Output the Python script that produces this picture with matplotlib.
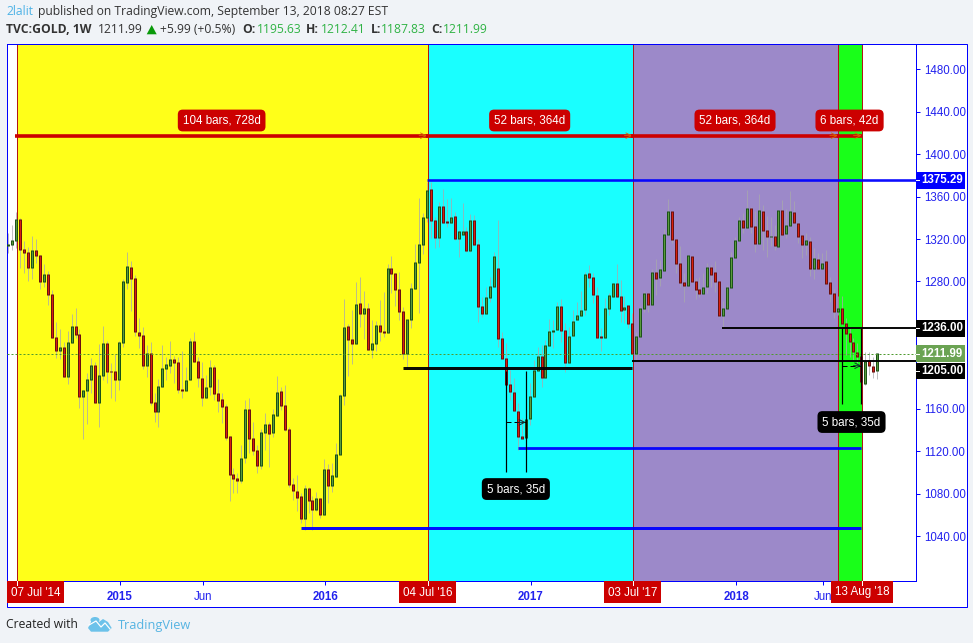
import numpy as np
import matplotlib
matplotlib.use("Agg")
import matplotlib.pyplot as plt
from matplotlib.patches import Rectangle, Polygon, Ellipse

plt.rcParams["font.family"] = ["Liberation Sans", "DejaVu Sans"]

# weekly TVC:GOLD bars, first entry is two weeks before 07 Jul '14
opens = [1314.4,1314.7,1318.8,1338.6,1310.3,1307.5,1293.0,1309.4,1304.7,1279.8,
         1286.7,1267.9,1227.3,1214.8,1217.9,1190.3,1222.6,1237.7,1230.2,1171.4,
         1177.4,1187.7,1200.9,1165.7,1191.5,1221.7,1195.6,1195.3,1187.4,1222.6,
         1279.2,1293.3,1283.0,1232.0,1229.2,1200.6,1212.2,1166.0,1157.3,1180.8,
         1198.1,1200.6,1206.6,1203.8,1178.3,1177.4,1187.4,1223.6,1204.7,1188.7,
         1170.4,1180.8,1199.1,1174.5,1168.3,1162.3,1134.0,1098.2,1094.4,1092.2,
         1114.2,1159.5,1132.1,1120.8,1106.4,1137.5,1145.3,1137.5,1153.5,1176.4,
         1163.2,1140.6,1088.7,1082.1,1077.4,1056.4,1085.0,1073.6,1064.9,1075.5,
         1060.1,1102.9,1087.5,1095.9,1117.0,1172.4,1237.7,1225.5,1221.4,1259.4,
         1249.7,1254.7,1215.7,1221.4,1238.7,1233.0,1231.7,1292.4,1287.7,1272.6,
         1251.9,1212.0,1244.0,1273.2,1297.7,1314.7,1340.2,1366.9,1337.6,1321.3,
         1350.8,1336.3,1335.8,1341.4,1320.4,1324.1,1327.3,1309.0,1337.6,1315.0,
         1256.6,1249.6,1264.7,1275.1,1292.4,1226.4,1207.5,1183.0,1175.5,1157.5,
         1134.3,1132.7,1150.6,1171.4,1195.9,1209.4,1189.3,1219.5,1232.7,1234.6,
         1256.6,1233.9,1203.4,1228.9,1244.0,1247.8,1253.4,1287.7,1283.9,1266.9,
         1228.3,1227.0,1254.4,1265.7,1278.2,1266.0,1253.4,1256.9,1240.5,1211.9,
         1228.3,1254.4,1268.8,1258.1,1288.6,1283.6,1290.2,1324.1,1346.1,1319.7,
         1297.1,1279.2,1276.0,1303.7,1280.1,1272.6,1268.5,1275.1,1293.3,1288.6,
         1280.1,1247.8,1254.4,1274.5,1302.4,1318.5,1337.6,1331.0,1349.0,1332.0,
         1315.6,1346.1,1328.2,1322.4,1322.6,1312.8,1347.0,1325.1,1332.9,1345.2,
         1334.8,1323.5,1314.7,1317.8,1292.1,1300.9,1292.1,1299.0,1279.2,1268.8,
         1251.5,1254.7,1240.5,1231.1,1222.9,1213.2,1209.7,1183.9,1205.6,1200.3,1195.63]
closes = [1315.0,1318.8,1338.6,1310.3,1307.2,1293.0,1309.4,1304.7,1279.8,1286.7,
          1267.6,1227.0,1214.8,1217.9,1190.3,1222.6,1237.7,1229.9,1171.4,1177.4,
          1187.7,1200.9,1165.7,1191.5,1221.7,1195.0,1195.2,1187.4,1222.6,1280.1,
          1294.3,1282.7,1232.7,1228.9,1200.6,1212.2,1165.7,1157.3,1181.1,1198.1,
          1201.9,1206.6,1203.4,1178.0,1177.4,1186.8,1223.6,1204.4,1189.6,1170.4,
          1180.2,1199.1,1174.2,1167.6,1162.0,1132.7,1097.9,1094.1,1092.2,1113.3,
          1159.5,1131.8,1120.5,1106.4,1137.8,1145.3,1136.5,1154.8,1175.5,1162.9,
          1140.3,1088.4,1082.8,1076.2,1056.4,1085.0,1073.3,1064.9,1075.5,1060.1,
          1102.9,1087.5,1097.2,1117.0,1172.7,1236.8,1225.2,1221.4,1258.5,1249.7,
          1254.7,1215.7,1221.7,1238.7,1232.7,1231.7,1292.4,1287.4,1272.3,1251.6,
          1212.0,1243.7,1273.6,1298.1,1315.0,1340.5,1365.6,1337.3,1321.3,1350.8,
          1335.4,1335.9,1340.5,1320.4,1327.3,1327.3,1309.0,1337.6,1314.7,1256.2,
          1249.6,1265.1,1275.4,1303.7,1226.1,1207.2,1182.7,1176.1,1158.2,1133.7,
          1132.4,1150.0,1171.7,1196.5,1209.4,1189.3,1219.8,1233.0,1233.9,1256.6,
          1233.6,1203.4,1228.3,1242.4,1248.0,1252.8,1286.7,1283.6,1267.6,1227.0,
          1227.0,1254.7,1266.9,1278.2,1265.7,1252.5,1255.6,1240.2,1211.9,1228.3,
          1254.7,1268.8,1258.1,1288.6,1282.6,1291.4,1324.4,1346.1,1319.7,1296.8,
          1278.9,1276.0,1304.6,1279.8,1272.3,1268.5,1274.5,1293.3,1286.4,1279.8,
          1247.8,1254.7,1274.5,1302.8,1318.8,1337.6,1330.7,1349.0,1331.7,1315.6,
          1347.0,1327.9,1322.2,1322.8,1313.8,1347.0,1324.1,1332.9,1346.1,1335.4,
          1322.2,1314.7,1319.1,1292.1,1301.8,1292.1,1297.1,1277.9,1268.5,1251.5,
          1254.7,1240.2,1230.8,1223.2,1213.8,1209.1,1185.5,1205.0,1200.6,1195.5,1211.99]
highs = [1326.0,1333.3,1345.8,1339.5,1318.2,1312.2,1322.9,1320.1,1304.7,1296.5,
         1289.9,1272.0,1241.8,1235.2,1223.3,1233.6,1249.3,1255.0,1235.2,1177.4,
         1194.0,1207.5,1204.4,1221.0,1238.0,1223.9,1202.8,1211.3,1224.2,1282.3,
         1307.8,1299.3,1286.1,1245.9,1237.4,1220.1,1222.9,1174.9,1188.0,1220.1,
         1208.8,1224.2,1210.0,1208.5,1214.5,1199.4,1226.7,1232.4,1208.8,1204.1,
         1191.8,1206.0,1201.3,1188.0,1174.5,1164.5,1134.0,1103.8,1099.1,1125.8,
         1168.3,1169.8,1147.5,1125.8,1140.9,1155.7,1147.8,1159.5,1190.9,1180.8,
         1182.4,1142.5,1094.4,1097.6,1080.3,1088.1,1086.6,1077.7,1081.2,1075.5,
         1112.3,1107.6,1108.5,1127.4,1173.9,1263.2,1239.9,1253.1,1279.5,1284.2,
         1271.0,1260.0,1243.7,1242.8,1262.6,1270.1,1296.5,1304.0,1287.7,1288.9,
         1256.3,1243.7,1278.9,1315.4,1358.4,1344.3,1374.1,1374.1,1341.1,1355.2,
         1366.9,1357.4,1358.4,1345.8,1328.5,1353.7,1331.7,1343.6,1342.7,1319.7,
         1265.7,1275.1,1284.5,1308.1,1338.0,1232.7,1221.7,1196.5,1188.7,1165.1,
         1151.0,1151.0,1183.9,1206.0,1218.5,1220.0,1224.8,1244.6,1243.7,1261.0,
         1263.2,1240.5,1237.4,1253.1,1261.0,1271.3,1288.6,1295.5,1287.7,1275.1,
         1235.8,1264.1,1269.4,1278.2,1296.5,1281.4,1266.3,1256.9,1249.9,1232.0,
         1257.2,1271.3,1268.8,1291.8,1301.2,1300.2,1329.2,1357.8,1346.1,1319.7,
         1313.4,1287.7,1304.6,1304.0,1283.0,1283.9,1288.3,1297.1,1295.5,1299.3,
         1280.1,1261.9,1276.7,1307.5,1322.2,1341.1,1344.2,1366.2,1349.9,1346.8,
         1362.5,1352.1,1341.7,1341.1,1333.2,1347.4,1356.8,1348.0,1365.3,1356.2,
         1334.8,1323.5,1325.4,1322.2,1311.2,1306.5,1306.5,1309.7,1283.9,1272.6,
         1266.3,1266.3,1245.2,1237.4,1226.4,1221.6,1212.2,1213.8,1213.8,1209.1,1212.41]
lows = [1307.2,1309.7,1311.9,1293.0,1288.3,1280.8,1282.7,1297.1,1273.2,1275.1,
        1258.1,1227.0,1207.5,1207.2,1190.3,1183.3,1221.7,1227.0,1160.7,1131.8,
        1145.6,1175.2,1165.7,1143.1,1187.1,1184.0,1170.1,1167.6,1177.7,1217.9,
        1272.6,1252.5,1228.6,1217.6,1197.8,1190.3,1163.5,1147.8,1143.1,1180.8,
        1187.1,1193.4,1184.6,1175.2,1170.1,1177.4,1187.4,1204.4,1180.2,1162.9,
        1170.4,1173.3,1168.3,1157.3,1146.9,1130.5,1073.3,1080.3,1080.9,1089.7,
        1109.2,1118.0,1116.4,1099.1,1102.9,1121.1,1104.8,1133.7,1153.5,1158.8,
        1139.3,1085.9,1074.0,1063.9,1052.6,1045.7,1061.4,1045.7,1063.9,1057.0,
        1060.1,1071.5,1081.8,1095.9,1117.0,1163.5,1191.2,1202.2,1221.4,1237.4,
        1225.8,1215.7,1208.2,1214.8,1224.2,1228.0,1231.7,1269.5,1256.9,1243.7,
        1206.9,1199.1,1235.8,1273.2,1250.6,1305.9,1336.4,1320.7,1311.2,1312.8,
        1335.4,1331.0,1335.4,1319.1,1303.4,1323.8,1308.1,1308.1,1314.7,1242.1,
        1246.2,1249.6,1261.0,1275.1,1218.5,1207.2,1182.7,1168.2,1158.2,1121.1,
        1132.4,1132.7,1144.7,1171.4,1195.9,1180.8,1189.3,1219.5,1217.0,1234.2,
        1223.2,1195.0,1203.4,1228.9,1244.0,1247.8,1248.1,1275.1,1259.4,1227.0,
        1214.8,1227.0,1248.4,1265.7,1265.7,1242.1,1240.5,1235.8,1211.9,1205.3,
        1228.3,1251.5,1251.5,1258.1,1267.2,1275.7,1290.2,1324.1,1316.6,1287.7,
        1275.1,1261.0,1276.0,1278.2,1263.5,1265.7,1268.5,1268.8,1275.1,1270.4,
        1246.8,1237.4,1254.4,1274.5,1302.4,1318.5,1325.4,1331.0,1326.0,1308.1,
        1315.6,1309.7,1303.4,1313.8,1309.7,1312.8,1324.1,1320.7,1332.9,1335.4,
        1316.0,1302.1,1305.0,1285.1,1282.3,1292.1,1292.1,1277.9,1261.0,1245.2,
        1248.4,1239.0,1210.7,1209.1,1205.9,1202.8,1164.4,1182.4,1191.8,1188.6,1187.83]

# date range zones, in bars counted from 07 Jul '14
zone_edges = [0, 104, 156, 208, 214]
zone_colors = ["#ffff19", "#19ffff", "#9c89c9", "#19ff19"]
zone_labels = ["104 bars, 728d", "52 bars, 364d", "52 bars, 364d", "6 bars, 42d"]
edge_dates = ["07 Jul '14", "04 Jul '16", "03 Jul '17", "13 Aug '18"]
edge_date_bars = [0, 104, 156, 214]
# the first box is pushed right so that it stays inside the frame
edge_date_centres = [4.8, 104, 156, 214]

year_ticks = [26, 47, 78, 130, 182, 204]
year_labels = ["2015", "Jun", "2016", "2017", "2018", "Jun"]
price_ticks = [1040, 1080, 1120, 1160, 1280, 1320, 1360, 1400, 1440, 1480]

last_price = 1211.99
range_price = 1417.5
range_label_price = 1431.8

# (start bar, end bar or None for the scale, price, width px, colour)
level_lines = [
    (104, None, 1375.29, 2.6, "#0000ff"),
    (72, 214, 1047.8, 3.0, "#0000ff"),
    (127, 214, 1123.0, 2.8, "#0000ff"),
    (98, 156, 1198.1, 3.0, "#000000"),
    (156, None, 1205.0, 2.0, "#000000"),
    (178.8, None, 1236.0, 2.0, "#000000"),
]
# (text, box colour, price the box sits at)
price_boxes = [
    ("1375.29", "#0000ff", 1375.29),
    ("1236.00", "#000000", 1236.0),
    ("1211.99", "#6ba353", 1211.99),
    ("1205.00", "#000000", 1195.6),
]
# (left bar, right bar, low, high, mid, label centre price)
measures = [
    (124, 129, 1100.4, 1196.0, 1147.2, 1084.3),
    (209, 214, 1164.5, 1236.0, 1200.6, 1147.5),
]

W, H = 973, 643
BG = "#f0f3f7"
BLUE = "#0000ff"
RED = "#cc0000"
TICK_BLUE = "#2222ee"
px = 72 / 100  # one pixel in points


def pxax(fig, left, top, right, bottom):
    return fig.add_axes([left / W, 1 - bottom / H, (right - left) / W, (bottom - top) / H])


fig = plt.figure(figsize=(W / 100, H / 100), dpi=100, facecolor=BG)

# outer frame and page text live on a pixel axes
page = pxax(fig, 0, 0, W, H)
page.set_xlim(0, W)
page.set_ylim(H, 0)
page.axis("off")
page.add_patch(Rectangle((6.5, 43.5), 960, 563, fc="white", ec=BLUE, lw=1 * px))

ax = pxax(fig, 6.5, 43.5, 915.5, 581)
ax.set_zorder(2)
ax.set_xlim(-2.48, 227.7)
ax.set_ylim(997.6, 1504.4)
ax.set_facecolor("white")
for s in ax.spines.values():
    s.set_color(BLUE)
    s.set_linewidth(1 * px)

# the drawn tools sit a little right of the candle centres
tool_dx = 0.15
for k in range(4):
    ax.axvspan(zone_edges[k] + tool_dx, zone_edges[k + 1] + tool_dx, color=zone_colors[k], lw=0, zorder=1)
for b in zone_edges:
    ax.axvline(b + tool_dx, color="#b01515", lw=1 * px, zorder=2)

x = np.arange(-2, len(opens) - 2)
o = np.array(opens)
c = np.array(closes)
up = c >= o
top = np.maximum(o, c)
bot = np.minimum(o, c)
ax.vlines(x, lows, highs, color="#a8a8ac", alpha=0.75, lw=1 * px, zorder=3)
# bodies as snapped strokes, so every candle stays 3 px wide: dark outline, then the fill inside it
one_px_price = 0.943
for mask, edge, fill in [(up, "#1c5218", "#5a9a3c"), (~up, "#6a1010", "#d8200f")]:
    ax.vlines(x[mask], bot[mask] - one_px_price / 2, top[mask] + one_px_price / 2, color=edge, lw=3 * px, zorder=4,
              capstyle="butt")
    tall = mask & (top - bot > one_px_price)
    ax.vlines(x[tall], bot[tall] + one_px_price / 2, top[tall] - one_px_price / 2, color=fill, lw=1 * px, zorder=5,
              capstyle="butt")

ax.axhline(last_price, color="#4f9a2f", lw=1 * px, ls=(0, (2, 2)), zorder=5)

# long red date ranges on top
for k in range(4):
    ax.plot([zone_edges[k] - 0.3, zone_edges[k + 1] + tool_dx], [range_price, range_price], color=RED, lw=3.6 * px,
            solid_capstyle="butt", zorder=6)
    ax.annotate("", xy=(zone_edges[k + 1], range_price), xytext=(zone_edges[k + 1] - 2, range_price),
                arrowprops=dict(arrowstyle="->", color="#d86a00", lw=0.6, shrinkA=0, shrinkB=0), zorder=6)
    ax.text((zone_edges[k] + zone_edges[k + 1]) / 2, range_label_price, zone_labels[k], color="white", fontsize=8.4,
            ha="center", va="center", zorder=8,
            bbox=dict(boxstyle="round,pad=0.42", fc=RED, ec="none"))

xmax = ax.get_xlim()[1]
for start, end, price, width, col in level_lines:
    ax.plot([start, xmax if end is None else end], [price, price], color=col, lw=width * px, alpha=0.95,
            solid_capstyle="butt", zorder=7)

for left, right, low, high, mid, lab in measures:
    ax.vlines([left, right], low, high, color="black", lw=1.2 * px, zorder=7)
    ax.plot([left, right], [mid, mid], color="black", lw=1 * px, ls=(0, (5, 3)), zorder=7)
    ax.annotate("", xy=(right, mid), xytext=(right - 2, mid),
                arrowprops=dict(arrowstyle="->", color="#103030", lw=0.7, shrinkA=0, shrinkB=0), zorder=7)
    ax.text((left + right) / 2, lab, "5 bars, 35d", color="white", fontsize=8.4, ha="center", va="center", zorder=8,
            bbox=dict(boxstyle="round,pad=0.42", fc="black", ec="none"))

# axes ticks
ax.yaxis.tick_right()
ax.set_yticks(price_ticks)
ax.set_yticklabels(["%.2f" % p for p in price_ticks], color=TICK_BLUE, fontsize=8.3)
ax.tick_params(axis="y", length=4 * px, width=1 * px, color=BLUE, pad=5 * px)
ax.set_xticks([b + 0.25 for b in year_ticks])
ax.set_xticklabels(year_labels, color=TICK_BLUE, fontsize=8.3)
ax.tick_params(axis="x", length=4 * px, width=1 * px, color=BLUE, pad=6 * px)
for lab, name in zip(ax.get_xticklabels(), year_labels):
    lab.set_fontweight("normal" if name == "Jun" else "bold")

# price scale boxes
ytr = ax.get_yaxis_transform()
for text, col, price in price_boxes:
    ax.add_patch(Rectangle((1.0, price - 8), 50 / 909, 16, transform=ytr, fc=col, ec="none", clip_on=False, zorder=9))
    ax.text(1 + 26.5 / 909, price, text, transform=ytr, color="white", fontsize=8.3, fontweight="bold",
            ha="center", va="center", zorder=10, clip_on=False)
    ax.plot([1.0, 1 + 3.5 / 909], [price, price], transform=ytr, color="white", lw=1 * px, zorder=10, clip_on=False)

# date boxes below the time scale
xtr = ax.get_xaxis_transform()
for b, mid, text in zip(edge_date_bars, edge_date_centres, edge_dates):
    half = (31 if "Aug" in text else 28.5) / 3.949
    ax.add_patch(Rectangle((mid + tool_dx - half, -22 / 537.5), 2 * half, 22 / 537.5, transform=xtr, fc=RED, ec="none",
                           clip_on=False, zorder=9))
    ax.plot([b + tool_dx, b + tool_dx], [-4 / 537.5, 0], transform=xtr, color="white", lw=1 * px, zorder=10,
            clip_on=False)
    ax.text(mid + tool_dx, -11.5 / 537.5, text, transform=xtr, color="white", fontsize=8.4, ha="center", va="center",
            zorder=10, clip_on=False)

# header
head = dict(family=["Open Sans", "DejaVu Sans"], fontsize=8.75, va="center", color="#333333")
page.text(6, 11.5, "2lalit", **{**head, "color": "#4eb3e6"})
page.text(37.5, 11.5, "published on TradingView.com, September 13, 2018 08:27 EST", **head)
page.text(6, 29.5, "TVC:GOLD, 1W", fontweight="bold", **head)
page.text(97.5, 29.5, "1211.99", **head)
page.add_patch(Polygon([(146.7, 34.3), (151.7, 25), (156.7, 34.3)], fc="#0a9a0a", ec="none"))
page.text(160, 29.5, "+5.99 (+0.5%)", **head)
for lx, key, vx, val in [(242, "O:", 257, "1195.63"), (306, "H:", 320.5, "1212.41"),
                         (371, "L:", 381, "1187.83"), (431, "C:", 443, "1211.99")]:
    page.text(lx, 29.5, key, fontweight="bold", **head)
    page.text(vx, 29.5, val, **{**head, "color": "#2fb344"})

# footer with the small cloud logo
page.text(6, 625, "Created with", **{**head, "color": "#222222"})
page.text(118, 625, "TradingView", **{**head, "color": "#56b4e2", "fontsize": 9.15})
logo = "#6cc2ea"
page.add_patch(Polygon([(88, 628), (92, 620), (96, 618), (99, 622), (103, 619), (108, 622), (111.7, 628), (108, 631.7),
                        (91, 631.7)], fc=logo, ec="none"))
page.add_patch(Ellipse((95, 620), 9, 6, fc=logo, ec="none"))
page.plot([89, 96, 101, 105, 110], [625, 621, 627, 623, 629], color="white", lw=1.2 * px)

fig.savefig("out.png", dpi=100, facecolor=BG)
